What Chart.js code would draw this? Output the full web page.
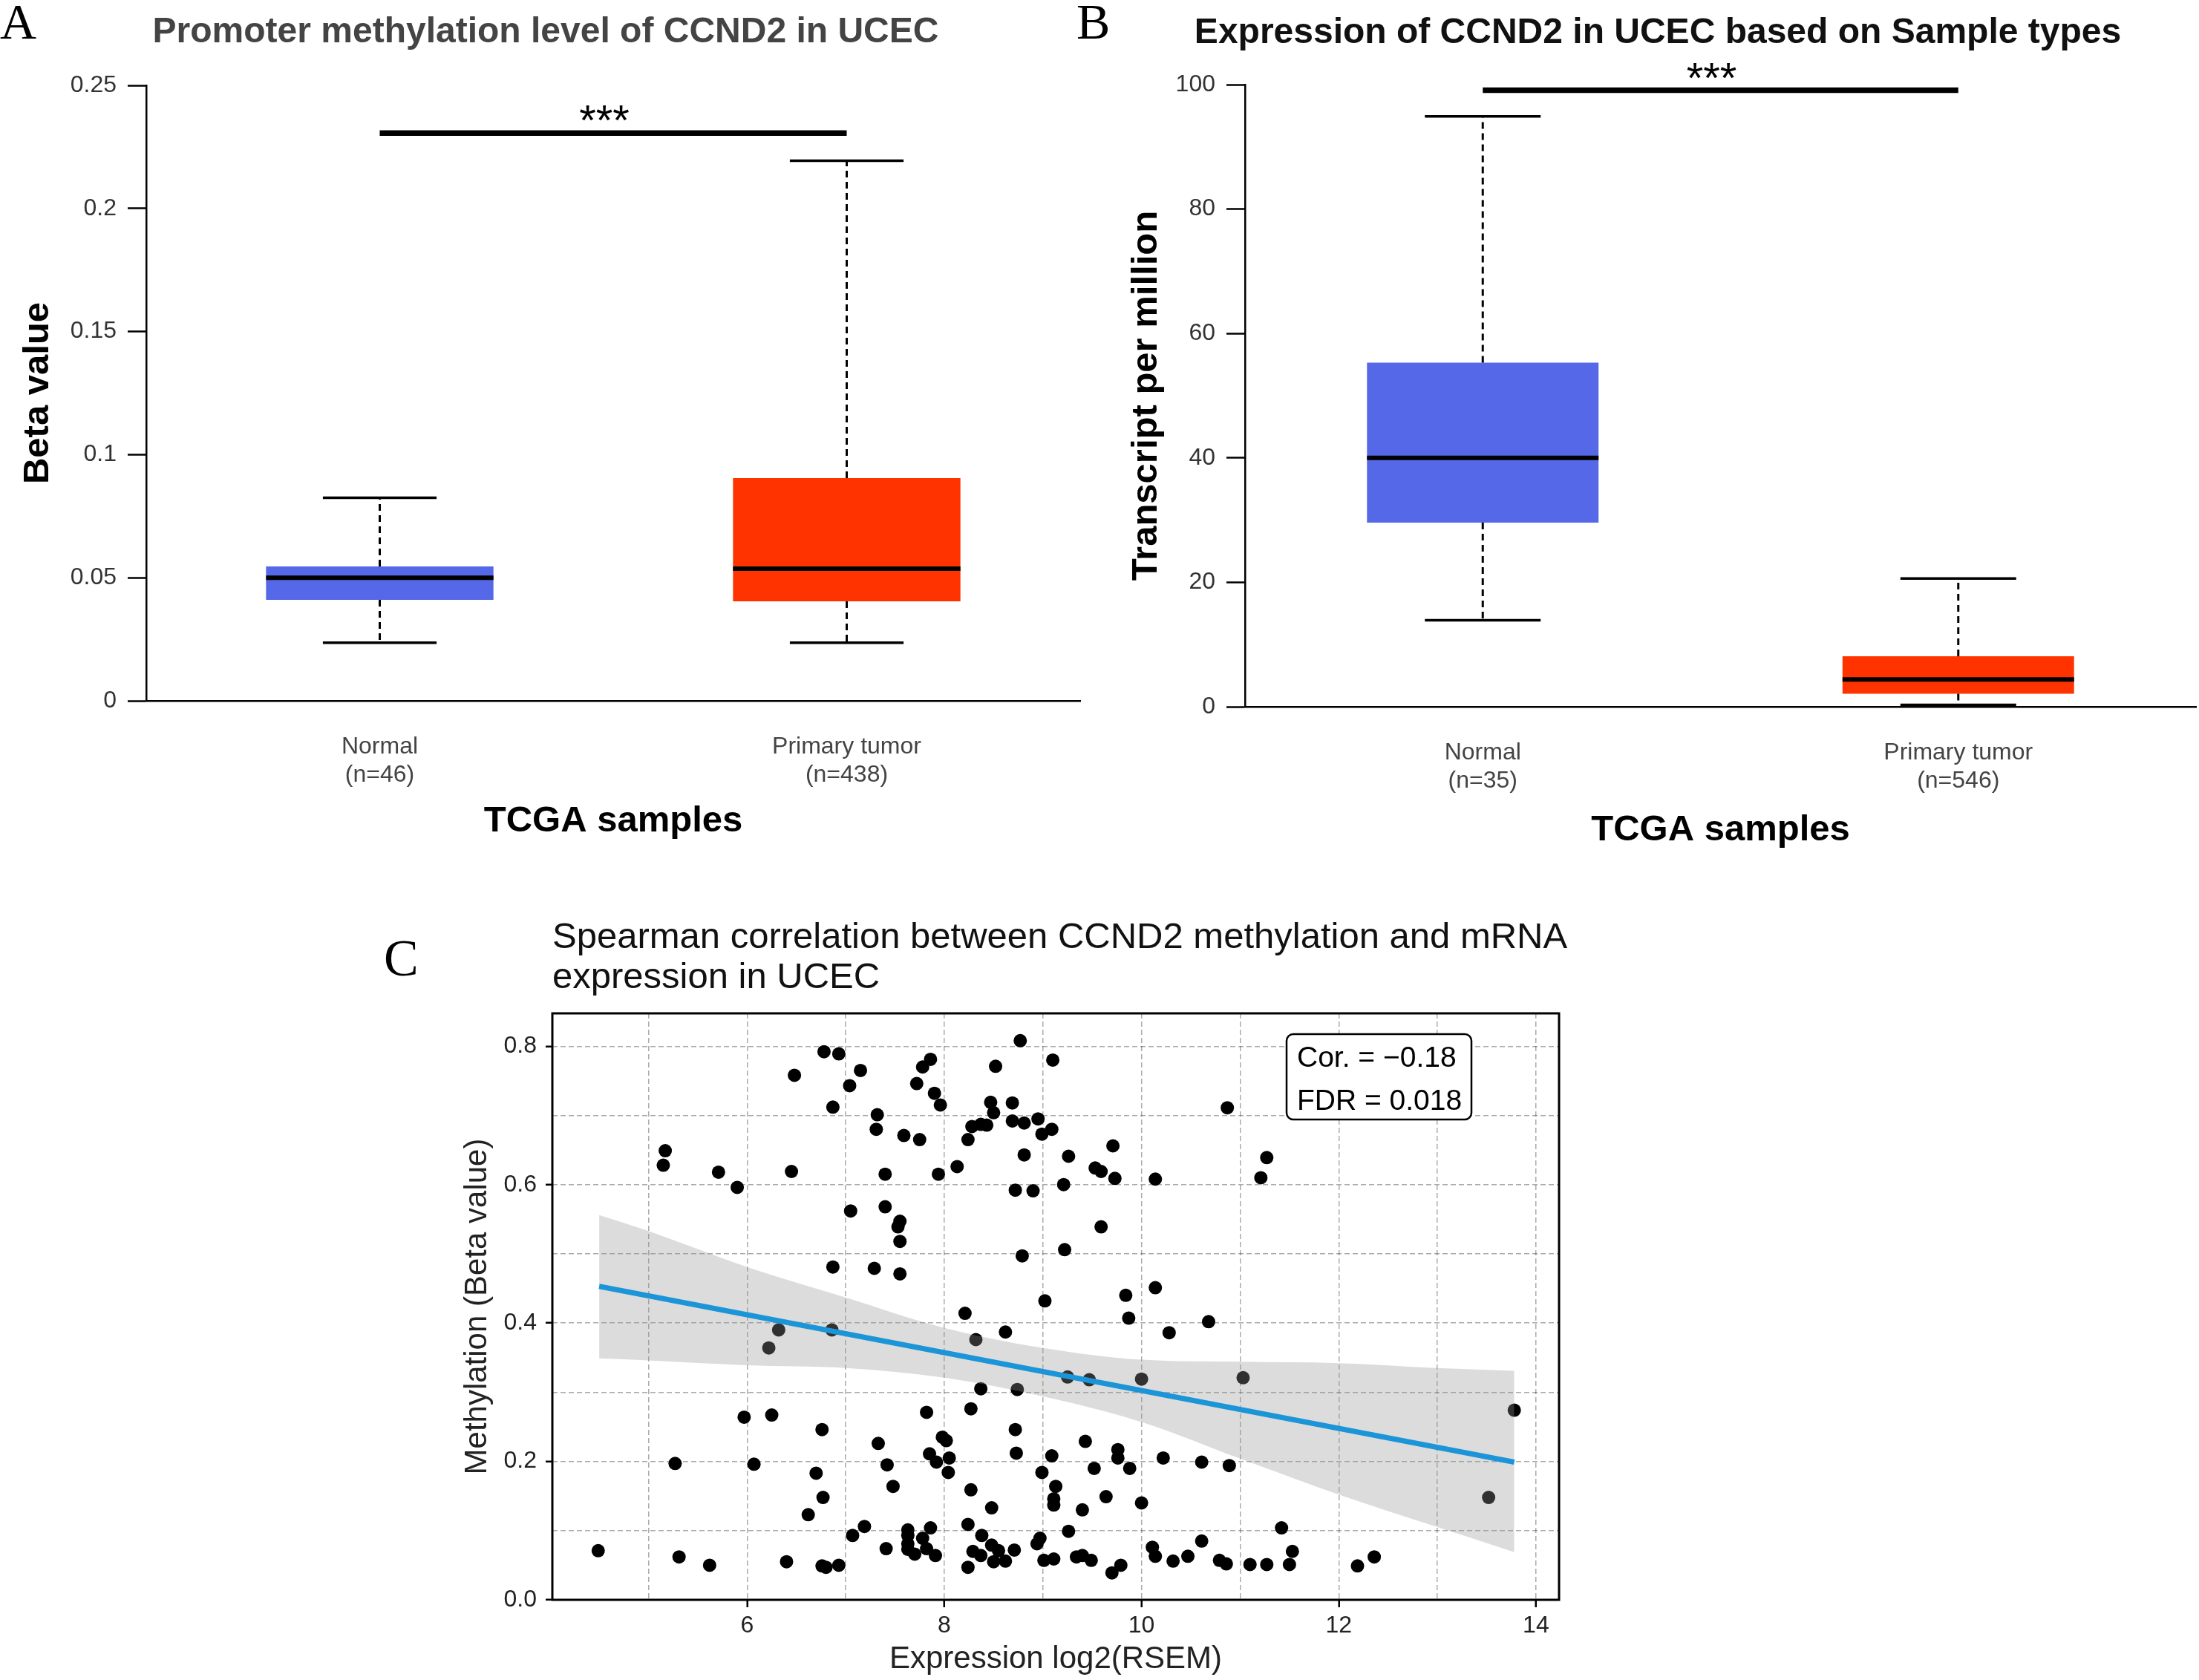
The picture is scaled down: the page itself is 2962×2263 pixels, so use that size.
<!DOCTYPE html>
<html>
<head>
<meta charset="utf-8">
<title>CCND2 in UCEC</title>
<script src="https://cdn.jsdelivr.net/npm/chart.js@4.4.1/dist/chart.umd.min.js"></script>
<style>
  html, body { margin: 0; padding: 0; background: #fff; }
  #page { position: relative; width: 2962px; height: 2263px; overflow: hidden; }
  #page canvas { position: absolute; left: 0; top: 0; }
</style>
</head>
<body>
<div id="page">
  <canvas id="methChart" width="2962" height="2263"></canvas>
  <canvas id="exprChart" width="2962" height="2263"></canvas>
  <canvas id="corrChart" width="2962" height="2263"></canvas>
</div>
<script>
// Panel A: promoter methylation (beta value), boxplot stats per group
const methCategories = [['Normal', '(n=46)'], ['Primary tumor', '(n=438)']];
const methMin = [0.0236, 0.0236];
const methQ1 = [0.0410, 0.0404];
const methMedian = [0.0500, 0.0537];
const methQ3 = [0.0546, 0.0905];
const methMax = [0.0825, 0.2194];
const methSig = 0.2306;
const methTicks = [0, 0.05, 0.1, 0.15, 0.2, 0.25];
const methTickLabels = ['0', '0.05', '0.1', '0.15', '0.2', '0.25'];

// Panel B: expression (transcripts per million)
const exprCategories = [['Normal', '(n=35)'], ['Primary tumor', '(n=546)']];
const exprMin = [13.9, 0.3];
const exprQ1 = [29.6, 2.1];
const exprMedian = [40.0, 4.4];
const exprQ3 = [55.3, 8.1];
const exprMax = [94.9, 20.6];
const exprSig = 99.1;
const exprTicks = [0, 20, 40, 60, 80, 100];
const exprTickLabels = ['0', '20', '40', '60', '80', '100'];

// Panel C: methylation vs expression samples
const corrExpr = [
  8.77, 6.78, 6.93, 6.48, 7.15, 7.04, 6.87, 7.86, 7.78, 7.72,
  7.90, 7.96, 8.52, 9.10, 7.32, 7.31, 7.59, 7.75, 8.47, 8.50,
  8.69, 8.69, 8.81, 8.95, 9.09, 8.99, 8.28, 8.37, 8.43, 8.24,
  8.81, 9.26, 5.17, 5.15, 5.71, 5.90, 6.45, 7.40, 7.94, 8.13,
  8.72, 8.90, 9.21, 7.05, 7.40, 7.55, 7.53, 7.55, 9.22, 8.79,
  6.87, 7.29, 7.55, 9.02, 8.21,
  10.87, 9.71, 9.53, 9.59, 9.73, 10.14, 11.27, 11.21, 9.59, 10.14, 9.84, 9.87, 10.68,
  6.32, 6.22, 6.86, 8.62, 8.32, 9.25, 8.37, 8.74, 8.27, 7.82,
  5.97, 6.25, 6.76, 8.72, 7.98, 8.02, 7.33, 7.85, 7.92, 8.05,
  8.73, 9.09, 5.27, 6.07, 7.42, 8.04, 6.70, 8.99, 7.48, 9.13,
  8.27, 9.11, 9.11, 6.77, 8.48, 6.62, 7.19, 7.86, 8.24, 7.63,
  7.07, 7.63, 8.38, 7.78, 8.97, 8.94, 7.63, 4.49, 7.41, 7.63,
  7.82, 7.70, 8.48, 8.55, 8.29, 8.37, 8.71, 7.91, 8.50, 8.62,
  8.24, 9.01, 9.11, 9.26, 5.31, 5.62, 6.40, 6.76, 6.80, 6.93,
  10.28, 9.47, 10.00, 11.03, 13.78, 9.43, 9.76, 9.76, 9.52, 9.88,
  10.22, 10.61, 10.89, 9.64, 9.40, 10.00, 13.52, 11.42, 10.61, 10.11,
  10.14, 9.34, 9.40, 9.49, 10.32, 10.47, 10.79, 10.86, 11.10, 11.27,
  11.53, 11.50, 9.70, 9.79, 12.19, 12.36
];
const corrMeth = [
  0.808, 0.792, 0.789, 0.758, 0.765, 0.743, 0.712, 0.781, 0.770, 0.746,
  0.732, 0.715, 0.771, 0.780, 0.701, 0.680, 0.671, 0.665, 0.719, 0.704,
  0.718, 0.692, 0.689, 0.695, 0.680, 0.673, 0.684, 0.687, 0.686, 0.665,
  0.643, 0.641, 0.649, 0.628, 0.618, 0.596, 0.619, 0.615, 0.615, 0.626,
  0.592, 0.591, 0.600, 0.562, 0.568, 0.547, 0.539, 0.518, 0.506, 0.497,
  0.481, 0.479, 0.471, 0.432, 0.414,
  0.711, 0.656, 0.624, 0.619, 0.609, 0.608, 0.639, 0.610, 0.539, 0.451, 0.440, 0.407, 0.402,
  0.390, 0.364, 0.390, 0.387, 0.376, 0.322, 0.305, 0.304, 0.276, 0.271,
  0.264, 0.267, 0.246, 0.246, 0.235, 0.230, 0.226, 0.211, 0.199, 0.205,
  0.212, 0.208, 0.197, 0.196, 0.195, 0.184, 0.183, 0.184, 0.164, 0.164,
  0.159, 0.146, 0.137, 0.148, 0.133, 0.123, 0.106, 0.104, 0.109, 0.101,
  0.093, 0.093, 0.093, 0.089, 0.089, 0.081, 0.081, 0.071, 0.074, 0.073,
  0.074, 0.066, 0.079, 0.071, 0.070, 0.064, 0.072, 0.064, 0.055, 0.056,
  0.047, 0.057, 0.059, 0.099, 0.062, 0.050, 0.055, 0.049, 0.047, 0.050,
  0.386, 0.318, 0.319, 0.321, 0.274, 0.229, 0.217, 0.205, 0.190, 0.190,
  0.205, 0.199, 0.194, 0.149, 0.130, 0.140, 0.148, 0.104, 0.085, 0.076,
  0.063, 0.062, 0.064, 0.057, 0.056, 0.063, 0.057, 0.052, 0.051, 0.051,
  0.070, 0.051, 0.039, 0.050, 0.049, 0.062
];
// confidence band and fitted line
const fitX = [4.5, 5, 6, 7, 8, 9, 10, 11, 12, 13, 13.78];
const fitUpper = [0.556, 0.533, 0.481, 0.437, 0.393, 0.364, 0.347, 0.344, 0.342, 0.335, 0.331];
const fitLower = [0.349, 0.346, 0.339, 0.335, 0.321, 0.294, 0.257, 0.204, 0.152, 0.105, 0.069];
const trendX = [4.5, 13.78];
const trendY = [0.453, 0.199];
const corrXGrid = [5, 6, 7, 8, 9, 10, 11, 12, 13, 14];
const corrXLabels = ['6', '8', '10', '12', '14'];
const corrYGrid = [0, 0.1, 0.2, 0.3, 0.4, 0.5, 0.6, 0.7, 0.8];
const corrYLabels = ['0.0', '0.2', '0.4', '0.6', '0.8'];

const SANS = "'Liberation Sans', Arial, Helvetica, sans-serif";
const SERIF = "'Liberation Serif', 'Times New Roman', serif";
const BLUE = 'rgb(84, 104, 232)';
const RED = 'rgb(255, 51, 0)';

Chart.defaults.font.family = SANS;
Chart.defaults.color = '#333';

function line(ctx, x1, y1, x2, y2) {
  ctx.beginPath();
  ctx.moveTo(x1, y1);
  ctx.lineTo(x2, y2);
  ctx.stroke();
}

// plain text items (titles, panel letters)
function textPlugin(id, items) {
  return {
    id: id,
    afterDraw(chart) {
      const ctx = chart.ctx;
      ctx.save();
      ctx.textBaseline = 'alphabetic';
      items.forEach(t => {
        ctx.font = t.font;
        ctx.fillStyle = t.color || '#000';
        ctx.textAlign = t.align || 'left';
        ctx.fillText(t.text, t.x, t.y);
      });
      ctx.restore();
    }
  };
}

// whiskers, caps, medians and the significance bar on top of the floating bars
function boxPlugin(id, stats) {
  return {
    id: id,
    afterDatasetsDraw(chart) {
      const ctx = chart.ctx;
      const y = chart.scales.y;
      const bars = chart.getDatasetMeta(0).data;
      ctx.save();
      ctx.strokeStyle = '#000';
      bars.forEach((bar, i) => {
        const half = bar.width / 2;
        const cap = bar.width / 4;
        const yMin = y.getPixelForValue(stats.min[i]);
        const yMax = y.getPixelForValue(stats.max[i]);
        const yQ1 = y.getPixelForValue(stats.q1[i]);
        const yQ3 = y.getPixelForValue(stats.q3[i]);
        const yMed = y.getPixelForValue(stats.median[i]);
        ctx.lineWidth = 3;
        ctx.setLineDash([9, 6]);
        line(ctx, bar.x, yQ3, bar.x, yMax);
        line(ctx, bar.x, yQ1, bar.x, yMin);
        ctx.setLineDash([]);
        ctx.lineWidth = 3.5;
        line(ctx, bar.x - cap, yMax, bar.x + cap, yMax);
        line(ctx, bar.x - cap, yMin, bar.x + cap, yMin);
        ctx.lineWidth = 6;
        line(ctx, bar.x - half, yMed, bar.x + half, yMed);
      });
      const ySig = y.getPixelForValue(stats.sig);
      ctx.lineWidth = 7.5;
      line(ctx, bars[0].x, ySig, bars[1].x, ySig);
      ctx.fillStyle = '#000';
      ctx.font = '58px ' + SANS;
      ctx.textAlign = 'center';
      ctx.textBaseline = 'alphabetic';
      ctx.fillText('***', (bars[0].x + bars[1].x) / 2 - 12, ySig + 3);
      ctx.restore();
    }
  };
}

function boxChart(canvasId, p) {
  return new Chart(document.getElementById(canvasId), {
    type: 'bar',
    data: {
      labels: p.labels,
      datasets: [{
        data: p.q1.map((v, i) => [v, p.q3[i]]),
        backgroundColor: [BLUE, RED],
        borderWidth: 0,
        borderSkipped: false,
        barPercentage: 0.487,
        categoryPercentage: 1
      }]
    },
    options: {
      responsive: false,
      devicePixelRatio: 1,
      animation: false,
      events: [],
      layout: { padding: p.padding },
      plugins: { legend: { display: false }, tooltip: { enabled: false } },
      scales: {
        x: {
          grid: { display: false },
          border: { color: '#000', width: 2.5 },
          ticks: { font: { size: 32 }, color: '#444', padding: 35 },
          title: {
            display: true, text: 'TCGA samples', color: '#000',
            font: { size: 49, weight: 'bold' },
            padding: { top: 0, bottom: p.xTitlePad }
          },
          afterFit: s => { s.height = 200; }
        },
        y: {
          min: p.ticks[0],
          max: p.ticks[p.ticks.length - 1],
          afterBuildTicks: s => { s.ticks = p.ticks.map(v => ({ value: v })); },
          grid: { drawOnChartArea: false, drawTicks: true, tickLength: 25, tickWidth: 2.5, tickColor: '#000' },
          border: { color: '#000', width: 2.5 },
          ticks: { font: { size: 32 }, color: '#333', padding: 15, callback: (v, i) => p.tickLabels[i] },
          title: {
            display: true, text: p.yTitle, color: '#000',
            font: { size: 49, weight: 'bold' },
            padding: { top: p.yTitlePad, bottom: 0 }
          },
          afterFit: s => { s.width = p.yWidth; }
        }
      }
    },
    plugins: [p.boxes, p.texts]
  });
}

boxChart('methChart', {
  labels: methCategories,
  q1: methQ1, q3: methQ3,
  ticks: methTicks, tickLabels: methTickLabels,
  yTitle: 'Beta value',
  yWidth: 197, yTitlePad: 21.6, xTitlePad: 8,
  padding: { left: 0, right: 1507, top: 115, bottom: 1119 },
  boxes: boxPlugin('methBoxes', { min: methMin, q1: methQ1, median: methMedian, q3: methQ3, max: methMax, sig: methSig }),
  texts: textPlugin('methText', [
    { text: 'A', x: 0, y: 52, font: '68px ' + SERIF, color: '#000' },
    { text: 'Promoter methylation level of CCND2 in UCEC', x: 735, y: 57, font: 'bold 48px ' + SANS, color: '#444', align: 'center' }
  ])
});

boxChart('exprChart', {
  labels: exprCategories,
  q1: exprQ1, q3: exprQ3,
  ticks: exprTicks, tickLabels: exprTickLabels,
  yTitle: 'Transcript per million',
  yWidth: 200, yTitlePad: 37.6, xTitlePad: 4,
  padding: { left: 1477, right: 4, top: 114, bottom: 1111 },
  boxes: boxPlugin('exprBoxes', { min: exprMin, q1: exprQ1, median: exprMedian, q3: exprQ3, max: exprMax, sig: exprSig }),
  texts: textPlugin('exprText', [
    { text: 'B', x: 1450, y: 52, font: '68px ' + SERIF, color: '#000' },
    { text: 'Expression of CCND2 in UCEC based on Sample types', x: 2233, y: 58, font: 'bold 48px ' + SANS, color: '#111', align: 'center' }
  ])
});

// frame around the plot area plus the correlation label box
const corrFrame = {
  id: 'corrFrame',
  afterDraw(chart) {
    const { ctx, chartArea: a } = chart;
    ctx.save();
    ctx.strokeStyle = '#000';
    ctx.lineWidth = 3;
    ctx.strokeRect(a.left, a.top, a.right - a.left, a.bottom - a.top);
    const bx = a.right - 367, by = a.top + 28;
    ctx.fillStyle = '#fff';
    ctx.lineWidth = 2.5;
    ctx.beginPath();
    ctx.roundRect(bx, by, 249, 115, 9);
    ctx.fill();
    ctx.stroke();
    ctx.fillStyle = '#000';
    ctx.font = '39px ' + SANS;
    ctx.textAlign = 'left';
    ctx.textBaseline = 'alphabetic';
    ctx.fillText('Cor. = \u22120.18', bx + 14, by + 44);
    ctx.fillText('FDR = 0.018', bx + 14, by + 102);
    ctx.restore();
  }
};

new Chart(document.getElementById('corrChart'), {
  type: 'scatter',
  data: {
    datasets: [
      {
        data: corrExpr.map((x, i) => ({ x: x, y: corrMeth[i] })),
        backgroundColor: '#000',
        borderWidth: 0,
        pointRadius: 9,
        order: 3
      },
      {
        type: 'line',
        data: fitX.map((x, i) => ({ x: x, y: fitUpper[i] })),
        borderWidth: 0,
        pointRadius: 0,
        cubicInterpolationMode: 'monotone',
        backgroundColor: 'rgba(150, 150, 150, 0.33)',
        fill: '+1',
        order: 2
      },
      {
        type: 'line',
        data: fitX.map((x, i) => ({ x: x, y: fitLower[i] })),
        borderWidth: 0,
        pointRadius: 0,
        cubicInterpolationMode: 'monotone',
        fill: false,
        order: 2
      },
      {
        type: 'line',
        data: trendX.map((x, i) => ({ x: x, y: trendY[i] })),
        borderColor: '#1b95d8',
        borderWidth: 7,
        pointRadius: 0,
        fill: false,
        order: 1
      }
    ]
  },
  options: {
    responsive: false,
    devicePixelRatio: 1,
    animation: false,
    events: [],
    layout: { padding: { left: 594, right: 862, top: 1365, bottom: 0 } },
    plugins: { legend: { display: false }, tooltip: { enabled: false } },
    scales: {
      x: {
        type: 'linear',
        min: 4.025,
        max: 14.234,
        afterBuildTicks: s => { s.ticks = corrXGrid.map(v => ({ value: v })); },
        grid: {
          color: 'rgba(0, 0, 0, 0.33)', lineWidth: 1.5,
          tickLength: 10, tickWidth: 2.5,
          tickColor: c => (c.tick && corrXLabels.includes(String(c.tick.value))) ? '#000' : 'rgba(0,0,0,0)'
        },
        border: { display: false, dash: [7, 4] },
        ticks: {
          autoSkip: false, maxRotation: 0, font: { size: 32 }, color: '#222', padding: 6,
          callback: v => corrXLabels.includes(String(v)) ? String(v) : ''
        },
        title: {
          display: true, text: 'Expression log2(RSEM)', color: '#222',
          font: { size: 42 }, padding: { top: 0, bottom: 2.8 }
        },
        afterFit: s => { s.height = 108; }
      },
      y: {
        min: 0,
        max: 0.8475,
        afterBuildTicks: s => { s.ticks = corrYGrid.map(v => ({ value: v })); },
        grid: {
          color: 'rgba(0, 0, 0, 0.33)', lineWidth: 1.5,
          tickLength: 9, tickWidth: 2.5,
          tickColor: c => (c.tick && corrYLabels.includes(c.tick.value.toFixed(1))) ? '#000' : 'rgba(0,0,0,0)'
        },
        border: { display: false, dash: [7, 4] },
        ticks: {
          autoSkip: false, font: { size: 32 }, color: '#222', padding: 12,
          callback: v => corrYLabels.includes(v.toFixed(1)) ? v.toFixed(1) : ''
        },
        title: {
          display: true, text: 'Methylation (Beta value)', color: '#222',
          font: { size: 42 }, padding: { top: 23.8, bottom: 0 }
        },
        afterFit: s => { s.width = 150; }
      }
    }
  },
  plugins: [corrFrame, textPlugin('corrText', [
    { text: 'C', x: 517, y: 1314, font: '70px ' + SERIF, color: '#000' },
    { text: 'Spearman correlation between CCND2 methylation and mRNA', x: 744, y: 1277, font: '49px ' + SANS, color: '#111' },
    { text: 'expression in UCEC', x: 744, y: 1331, font: '49px ' + SANS, color: '#111' }
  ])]
});
</script>
</body>
</html>
